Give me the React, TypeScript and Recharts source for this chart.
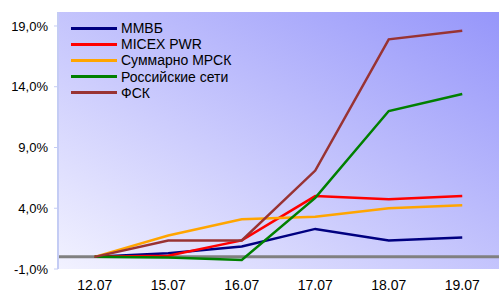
import React from "react";
import { LineChart, Line, XAxis, YAxis, CartesianGrid, ReferenceLine } from "recharts";

const categories = ["12.07", "15.07", "16.07", "17.07", "18.07", "19.07"];
const mmvb = [0, 0.3, 0.85, 2.3, 1.35, 1.6];
const micexPwr = [0, 0.1, 1.35, 5.0, 4.75, 5.0];
const mrsk = [0, 1.75, 3.1, 3.3, 4.0, 4.25];
const rosSeti = [0, -0.05, -0.25, 4.85, 12.0, 13.4];
const fsk = [0, 1.35, 1.35, 7.1, 17.9, 18.6];
const yTicks = [-1, 4, 9, 14, 19];

const seriesDefs = [
  { key: "mmvb", name: "ММВБ", color: "#000080", values: mmvb },
  { key: "micex", name: "MICEX PWR", color: "#FF0000", values: micexPwr },
  { key: "mrsk", name: "Суммарно МРСК", color: "#FFA500", values: mrsk },
  { key: "seti", name: "Российские сети", color: "#008000", values: rosSeti },
  { key: "fsk", name: "ФСК", color: "#993333", values: fsk },
];

const data = categories.map((c, i) => {
  const row: Record<string, string | number> = { cat: c };
  seriesDefs.forEach((s) => {
    row[s.key] = s.values[i];
  });
  return row;
});

const fmt = (v: number) => v.toFixed(1).replace(".", ",") + "%";
const FONT = "Arial, 'Liberation Sans', sans-serif";

export default function App() {
  return (
    <div style={{ position: "absolute", left: 0, top: 0, width: 499, height: 291, background: "#fff" }}>
      <LineChart width={499} height={291} data={data} margin={{ top: 12, right: 0, bottom: 0, left: 0 }}>
        <defs>
          <linearGradient id="bg" x1="0" y1="1" x2="1" y2="0">
            <stop offset="0%" stopColor="#F2F2FF" />
            <stop offset="100%" stopColor="#9696FA" />
          </linearGradient>
        </defs>
        <CartesianGrid fill="url(#bg)" stroke="none" horizontal={false} vertical={false} />
        <XAxis
          dataKey="cat"
          axisLine={false}
          tickLine={false}
          height={22}
          tickSize={4}
          tickMargin={7}
          interval={0}
          padding={{ left: 36.75, right: 36.75 }}
          tick={{ fill: "#000", fontSize: 14, fontFamily: FONT }}
        />
        <YAxis
          type="number"
          domain={[-1, 20.15]}
          ticks={yTicks}
          width={58}
          interval={0}
          tickFormatter={fmt}
          axisLine={{ stroke: "#C4CCF4", strokeWidth: 2 }}
          tickLine={{ stroke: "#C4CCF4" }}
          tickSize={4}
          tickMargin={6}
          tick={{ fill: "#000", fontSize: 13, fontFamily: FONT }}
        />
        <ReferenceLine y={0} stroke="#808080" strokeWidth={3} />
        {seriesDefs.map((s) => (
          <Line
            key={s.key}
            type="linear"
            dataKey={s.key}
            name={s.name}
            stroke={s.color}
            strokeWidth={2.5}
            dot={false}
            activeDot={false}
            isAnimationActive={false}
          />
        ))}
      </LineChart>
      <div style={{ position: "absolute", left: 71, top: 20, fontFamily: FONT, fontSize: 14, color: "#000" }}>
        {seriesDefs.map((s) => (
          <div key={s.key} style={{ display: "flex", alignItems: "center", height: 16.2, lineHeight: "16px", whiteSpace: "nowrap" }}>
            <span style={{ display: "inline-block", width: 46, height: 3, background: s.color, marginRight: 4 }} />
            <span>{s.name}</span>
          </div>
        ))}
      </div>
    </div>
  );
}
